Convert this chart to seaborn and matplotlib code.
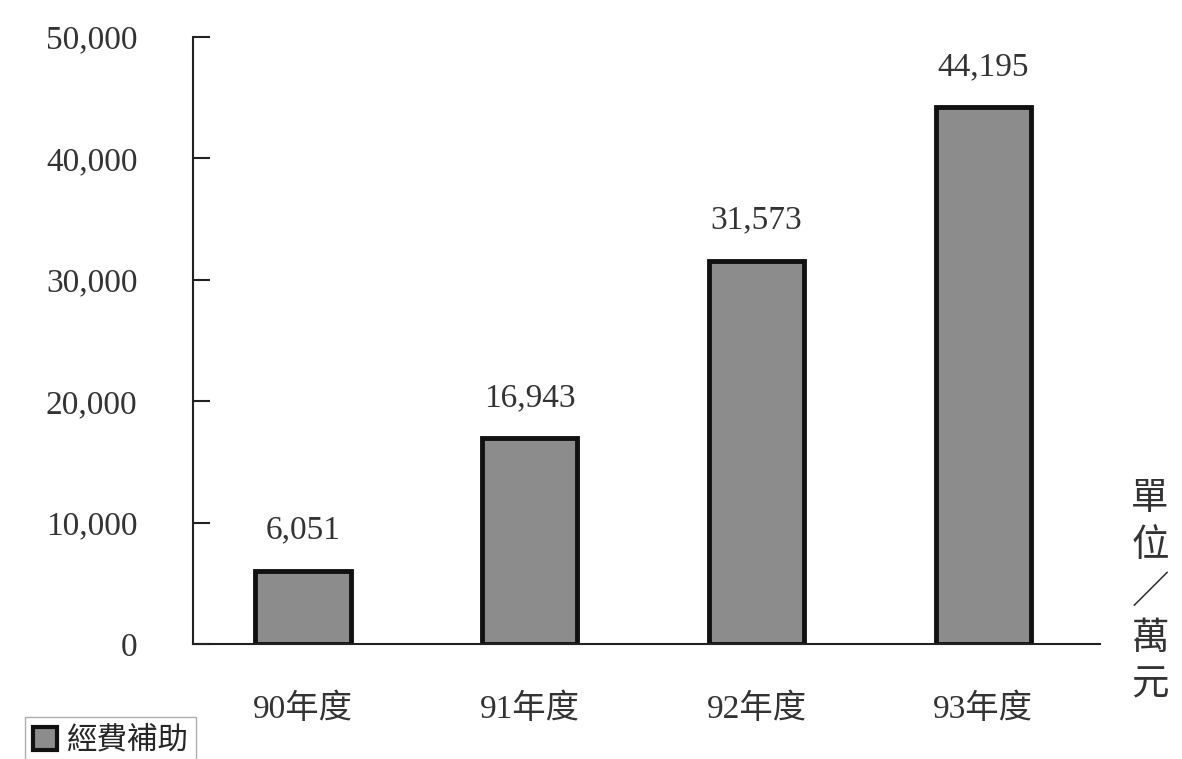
import matplotlib
matplotlib.use("Agg")
import matplotlib.pyplot as plt
import matplotlib.patches as mpatches
import seaborn as sns
import pandas as pd

# chart data
years = ["90年度", "91年度", "92年度", "93年度"]
funding = [6051, 16943, 31573, 44195]
yticks = [0, 10000, 20000, 30000, 40000, 50000]
series_name = "經費補助"
unit_label = "單\n位\n／\n萬\n元"

sns.set_theme(style="white")
plt.rcParams['font.family'] = ['Liberation Serif', 'Noto Sans CJK TC', 'DejaVu Sans']

df = pd.DataFrame({"year": years, "funding": funding})

fig = plt.figure(figsize=(11.82, 7.59), dpi=100)
ax = fig.add_axes([193 / 1182, 1 - 644 / 759, (1100 - 193) / 1182, (644 - 37) / 759])

sns.barplot(data=df, x="year", y="funding", color="#8c8c8c", saturation=1,
            width=0.42, edgecolor="#111111", linewidth=3.5, ax=ax)

ax.set_xlim(-0.485, 3.515)
ax.set_ylim(0, 50000)
ax.set_yticks(yticks)
ax.set_yticklabels([f"{v:,}" for v in yticks], fontsize=24, color="#333333")
ax.set_xticks(range(len(years)))
ax.set_xticklabels(years, fontsize=24, color="#333333")
ax.set_xticks([0.5, 1.5, 2.5, 3.5], minor=True)
ax.tick_params(axis="x", which="major", length=0, pad=36)
ax.tick_params(axis="x", which="minor", direction="in", length=12, width=1.5, color="#222222")
ax.tick_params(axis="y", direction="in", length=12, width=1.5, color="#222222", pad=40, left=True)
ax.set_xlabel("")
ax.set_ylabel("")

for side in ["top", "right"]:
    ax.spines[side].set_visible(False)
for side in ["left", "bottom"]:
    ax.spines[side].set_color("#222222")
    ax.spines[side].set_linewidth(1.5)

# value labels above bars
for i, v in enumerate(funding):
    ax.annotate(f"{v:,}", (i, v), xytext=(0, 18), textcoords="offset points",
                ha="center", va="bottom", fontsize=24, color="#333333")

# unit text on the right
fig.text(1150 / 1182, 1 - 592 / 759, unit_label, ha="center", va="center",
         fontsize=27, color="#333333", linespacing=1.25,
         family=['Noto Sans CJK TC', 'DejaVu Sans'])

# legend at the bottom left
handle = mpatches.Patch(facecolor="#8c8c8c", edgecolor="#111111", linewidth=3)
fig.legend([handle], [series_name], loc="upper left",
           bbox_to_anchor=(10 / 1182, 1 - 702 / 759), frameon=True, fancybox=False,
           edgecolor="#999999", handlelength=0.8, handleheight=0.8, handletextpad=0.3,
           borderpad=0.25, prop={"family": ['Noto Sans CJK TC'], "size": 22})

fig.savefig("out.png", dpi=100, facecolor="white")
